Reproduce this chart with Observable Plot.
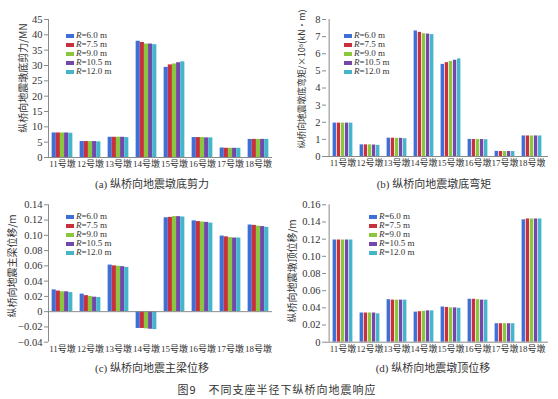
<!DOCTYPE html>
<html><head><meta charset="utf-8">
<script src="https://cdn.jsdelivr.net/npm/d3@7"></script>
<script src="https://cdn.jsdelivr.net/npm/@observablehq/plot@0.6"></script>
<style>
html,body{margin:0;padding:0;background:#fff;}
#root{position:relative;width:558px;height:399px;overflow:hidden;font-family:"Liberation Serif","Noto Sans CJK SC",serif;color:#333;}
.panel{position:absolute;}
.panel svg{overflow:visible;}
.panel svg text{font-family:"Liberation Serif","Noto Sans CJK SC",serif !important;}
.panel [aria-label="y-axis tick"]{stroke:#8a8a8a;}
.ytitle{position:absolute;white-space:nowrap;font-size:10px;transform:translate(-50%,-50%) rotate(-90deg);font-family:"Noto Sans CJK SC",sans-serif;color:#333;}
.cap{position:absolute;white-space:nowrap;font-size:11px;transform:translate(-50%,-50%);font-family:"Liberation Serif","Noto Sans CJK SC",serif;color:#333;}
.leg{position:absolute;font-size:9px;line-height:9px;font-family:"Liberation Serif",serif;color:#333;}
.leg div{display:flex;align-items:center;height:9px;white-space:nowrap;}
.leg span.sw{display:inline-block;width:8px;height:4px;margin-right:2px;}
#fig{position:absolute;left:277px;top:389px;transform:translate(-50%,-50%);white-space:nowrap;font-size:11px;letter-spacing:1px;font-family:"Noto Sans CJK SC",sans-serif;color:#333;}
</style></head>
<body><div id="root"></div>
<script>
const piers = ["11号墩","12号墩","13号墩","14号墩","15号墩","16号墩","17号墩","18号墩"];
const radii = ["6.0","7.5","9.0","10.5","12.0"];
const colors = ["#3d6fd6","#c9303e","#8bc63f","#7348aa","#45b5cb"];

// (a) pier-bottom shear, MN  [pier][radius]
const shear = [
  [8.0,8.0,8.0,8.0,7.9],
  [5.2,5.2,5.2,5.2,5.1],
  [6.6,6.6,6.6,6.6,6.5],
  [37.9,37.5,37.0,37.0,36.8],
  [29.4,30.2,30.5,30.9,31.2],
  [6.5,6.5,6.5,6.4,6.4],
  [3.1,3.0,3.0,3.0,3.0],
  [5.9,5.9,5.9,5.9,5.9]
];
// (b) pier-bottom moment, x10^5 kN·m
const moment = [
  [1.95,1.95,1.95,1.95,1.95],
  [0.68,0.68,0.68,0.67,0.65],
  [1.07,1.07,1.06,1.06,1.04],
  [7.33,7.25,7.17,7.15,7.12],
  [5.38,5.48,5.55,5.62,5.70],
  [1.00,0.99,0.99,0.99,0.98],
  [0.30,0.29,0.29,0.29,0.29],
  [1.20,1.20,1.20,1.20,1.20]
];
// (c) girder displacement, m
const girder = [
  [0.0285,0.027,0.026,0.026,0.025],
  [0.023,0.021,0.020,0.019,0.0185],
  [0.061,0.060,0.0595,0.059,0.058],
  [-0.022,-0.022,-0.0225,-0.023,-0.0235],
  [0.123,0.1235,0.1245,0.1245,0.124],
  [0.119,0.118,0.1175,0.117,0.116],
  [0.099,0.098,0.097,0.0965,0.0965],
  [0.1135,0.113,0.112,0.1115,0.1105]
];
// (d) pier-top displacement, m
const pierTop = [
  [0.119,0.119,0.119,0.119,0.119],
  [0.034,0.034,0.034,0.034,0.033],
  [0.0495,0.049,0.049,0.049,0.049],
  [0.035,0.0355,0.036,0.0365,0.0365],
  [0.041,0.0405,0.040,0.040,0.0395],
  [0.050,0.050,0.0495,0.049,0.049],
  [0.0215,0.0215,0.0215,0.0215,0.0215],
  [0.1425,0.1435,0.1435,0.1435,0.1435]
];
const ticksA = [0,5,10,15,20,25,30,35,40,45];
const ticksB = [0,1,2,3,4,5,6,7,8];
const ticksC = [-0.04,-0.02,0,0.02,0.04,0.06,0.08,0.10,0.12,0.14];
const ticksD = [0,0.02,0.04,0.06,0.08,0.10,0.12,0.14,0.16];
const titles = ["纵桥向地震墩底剪力/MN","纵桥向地震墩底弯矩/×10⁵(kN·m)","纵桥向地震主梁位移/m","纵桥向地震墩顶位移/m"];
const captions = ["(a) 纵桥向地震墩底剪力","(b) 纵桥向地震墩底弯矩","(c) 纵桥向地震主梁位移","(d) 纵桥向地震墩顶位移"];
const figCaption = "图9\u2003不同支座半径下纵桥向地震响应";

const SERIF = '"Liberation Serif","Noto Sans CJK SC",serif';
const f2 = d => d === 0 ? "0" : d3.format(".2f")(d);
const panels = [
  {vals: shear, ticks: ticksA, fmt: d=>String(d), left:0, top:0, w:279, h:172, ml:48, mr:7, mt:19, mb:15,
   title:[22,78], tfs:10, cap:[152,183], leg:[66,31]},
  {vals: moment, ticks: ticksB, fmt: d=>String(d), left:278, top:0, w:280, h:172, ml:48, mr:10, mt:19, mb:16,
   title:[301,79], tfs:8.8, cap:[434,183], leg:[344,31]},
  {vals: girder, ticks: ticksC, fmt: f2, left:0, top:190, w:279, h:165, ml:48, mr:7, mt:14.3, mb:13.3,
   title:[11,266], tfs:10, cap:[152,367], leg:[66,212]},
  {vals: pierTop, ticks: ticksD, fmt: f2, left:278, top:190, w:280, h:165, ml:48, mr:10, mt:14.3, mb:13.3,
   title:[291,271], tfs:10, cap:[433,367], leg:[369,212]}
];

const root = document.getElementById("root");
panels.forEach((p, k) => {
  const data = piers.flatMap((pier, i) => radii.map((r, j) => ({pier, r, j, v: p.vals[i][j]})));
  const bw = (p.w - p.ml - p.mr) / piers.length;
  const groupW = bw * 0.74, barW = groupW / radii.length;
  const marks = radii.map((r, j) => {
    const il = (bw - groupW) / 2 + j * barW;
    return Plot.barY(data.filter(d => d.j === j), {x: "pier", y: "v", fill: colors[j],
      insetLeft: il, insetRight: bw - il - barW});
  });
  const plot = Plot.plot({
    width: p.w, height: p.h,
    marginLeft: p.ml, marginRight: p.mr, marginTop: p.mt, marginBottom: p.mb,
    style: {fontFamily: SERIF, fontSize: "10.5px", color: "#333", background: "transparent"},
    x: {type: "band", domain: piers, padding: 0, axis: null},
    y: {domain: [p.ticks[0], p.ticks[p.ticks.length - 1]], axis: null},
    marks: [
      ...marks,
      Plot.ruleY([0], {stroke: "#8a8a8a", strokeWidth: 1}),
      Plot.ruleX([piers[0]], {dx: -bw / 2, stroke: "#8a8a8a", strokeWidth: 1}),
      Plot.axisY({ticks: p.ticks, tickFormat: p.fmt, tickSize: 4, tickPadding: 2, label: null,
        fontSize: 10.5}),
      Plot.axisX({tickSize: 0, tickPadding: 3, label: null, fontSize: 9})
    ]
  });
  const div = document.createElement("div");
  div.className = "panel";
  div.style.left = p.left + "px"; div.style.top = p.top + "px";
  div.appendChild(plot);
  root.appendChild(div);

  const t = document.createElement("div");
  t.className = "ytitle"; t.textContent = titles[k];
  t.style.fontSize = p.tfs + "px";
  t.style.left = p.title[0] + "px"; t.style.top = p.title[1] + "px";
  root.appendChild(t);

  const c = document.createElement("div");
  c.className = "cap"; c.textContent = captions[k];
  c.style.left = p.cap[0] + "px"; c.style.top = p.cap[1] + "px";
  root.appendChild(c);

  const lg = document.createElement("div");
  lg.className = "leg";
  lg.style.left = p.leg[0] + "px"; lg.style.top = p.leg[1] + "px";
  radii.forEach((r, j) => {
    const row = document.createElement("div");
    const sw = document.createElement("span"); sw.className = "sw"; sw.style.background = colors[j];
    const i = document.createElement("i"); i.textContent = "R";
    row.appendChild(sw); row.appendChild(i);
    row.appendChild(document.createTextNode("=" + r + " m"));
    lg.appendChild(row);
  });
  root.appendChild(lg);
});
const fig = document.createElement("div");
fig.id = "fig"; fig.textContent = figCaption;
root.appendChild(fig);
</script></body></html>
